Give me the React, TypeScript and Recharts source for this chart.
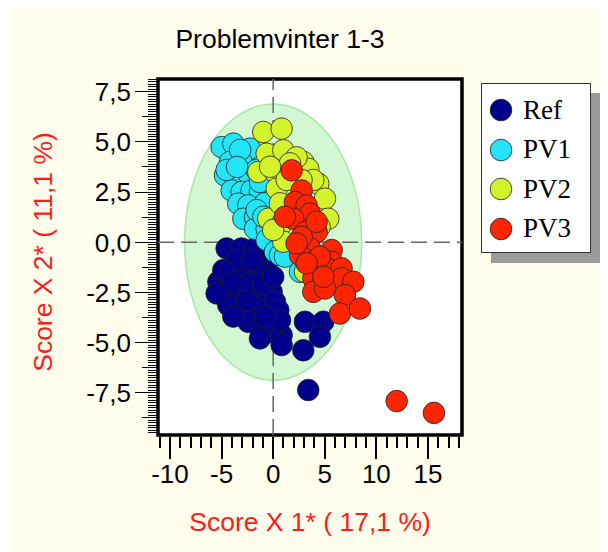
import React from 'react';
import { ScatterChart, Scatter, XAxis, YAxis, CartesianGrid, ReferenceLine, ReferenceArea } from 'recharts';

// score plot: Score X 1* vs Score X 2*
const refPoints: [number, number][] = [
  [-4.51, -0.31], [-3.06, -0.31], [-1.77, -0.31], [-0.63, -0.64], [-5.31, -1.97],
  [-4.02, -1.3], [-2.73, -1.47], [-1.44, -1.64], [-0.15, -2.47], [-4.35, -2.47],
  [-3.06, -2.47], [-1.77, -2.63], [-0.63, -2.96], [0.17, -2.96], [-4.35, -3.13],
  [-3.06, -3.46], [-1.77, -3.21], [0.5, -3.38], [-2.41, -3.96], [-1.28, -4.29],
  [-0.15, -4.46], [-1.28, -4.79], [0.82, -4.63], [0.82, -5.12], [-3.54, -1.88],
  [-5.48, -2.55], [3.08, -3.96], [4.86, -3.96], [4.53, -4.71], [2.92, -5.38],
  [3.4, -7.36], [-0.63, -1.39], [-1.6, -1.05], [-3.54, -0.89], [-4.83, -1.39],
  [-2.25, -2.05], [-0.96, -2.05], [-3.86, -3.7], [0.66, -3.88], [-0.8, -3.7],
  [0.0, -1.72], [-2.5, -2.9], [-3.9, -2.0], [-2.0, -0.9],
];

const pv1Points: [number, number][] = [
  [-4.99, 4.74], [-3.86, 4.91], [-2.25, 4.66], [-4.19, 4.0], [-3.06, 4.0],
  [-4.67, 3.33], [-3.54, 3.17], [-2.41, 3.42], [-4.02, 2.58], [-3.06, 2.5],
  [-2.09, 2.58], [-1.28, 2.5], [-3.38, 1.92], [-2.41, 1.84], [-2.89, 1.17],
  [-1.76, 1.26], [-1.76, 0.67], [-0.63, 0.67], [-0.63, 0.11], [0.17, -0.47],
  [0.66, -0.64], [1.14, -0.72], [2.6, -1.47], [-1.6, 3.6], [-0.79, 1.94],
  [-4.51, 3.6], [-3.2, 4.6], [-3.5, 3.75], [-1.6, 1.6], [-0.95, 1.27],
  [-1.28, 3.0],
];

const pv2Points: [number, number][] = [
  [-0.96, 5.49], [0.82, 5.66], [-0.63, 4.41], [0.98, 4.58], [-1.44, 3.5],
  [0.17, 3.5], [0.34, 2.67], [-0.47, 1.17], [0.82, 0.92], [2.92, 4.0],
  [3.4, 3.66], [4.37, 2.92], [5.02, 2.17], [5.34, 1.17], [0.98, 0.03],
  [3.08, -1.47], [2.27, 4.23], [1.63, 3.93], [3.89, 3.1], [2.75, 3.1],
  [1.31, 3.1], [0.66, 1.94], [0.0, 0.61], [4.5, 0.77], [-0.3, 3.76],
];

const pv3Points: [number, number][] = [
  [1.79, 3.58], [2.76, 2.58], [2.11, 2.0], [3.24, 1.83], [3.57, 1.42],
  [1.95, 1.17], [3.08, 0.51], [4.21, 0.51], [3.57, -0.3], [5.67, -0.39],
  [2.6, -0.64], [5.67, -0.97], [5.18, -1.3], [6.63, -1.3], [3.89, -1.8],
  [6.63, -1.8], [7.77, -1.97], [3.89, -2.47], [5.02, -2.3], [6.96, -2.63],
  [6.47, -3.55], [8.41, -3.3], [4.21, 1.02], [2.76, 0.27], [2.27, -0.06],
  [4.53, -0.72], [3.24, -1.05], [1.14, 1.27], [4.86, -1.72], [11.97, -7.91],
  [15.58, -8.5],
];

const seriesNames = ['Ref', 'PV1', 'PV2', 'PV3'];
const seriesColors = ['#00008c', '#22e5f8', '#d4f22b', '#ff2500'];
const seriesPoints = [refPoints, pv1Points, pv2Points, pv3Points];

const xMajorTicks = [-10, -5, 0, 5, 10, 15];
const xMajorLabels = ['-10', '-5', '0', '5', '10', '15'];
const yMajorTicks = [-7.5, -5, -2.5, 0, 2.5, 5, 7.5];
const yMajorLabels = ['-7,5', '-5,0', '-2,5', '0,0', '2,5', '5,0', '7,5'];

// confidence ellipse (semi axes in score units)
const ellipseRx = 8.58;
const ellipseRy = 6.88;

const X_MIN = -11.16;
const X_MAX = 18.3;
const Y_MIN = -9.6;
const Y_MAX = 8.13;

const xTicks: number[] = [];
for (let v = -11; v <= 18; v++) xTicks.push(v);
const yTicks: number[] = [];
for (let i = -76; i <= 65; i++) yTicks.push(i * 0.125);

const isMult = (v: number, s: number) => Math.abs(v / s - Math.round(v / s)) < 1e-6;

const XTick = (props: any) => {
  const { x, y, payload } = props;
  const i = xMajorTicks.indexOf(payload.value);
  const major = i >= 0;
  return (
    <g>
      <line x1={x} x2={x} y1={y + 2} y2={y + (major ? 24 : 13)} stroke="#000" strokeWidth={2} shapeRendering="crispEdges" />
      {major && (
        <text x={x} y={y + 48} textAnchor="middle" fontSize={26} fill="#000">
          {xMajorLabels[i]}
        </text>
      )}
    </g>
  );
};

const YTick = (props: any) => {
  const { x, y, payload } = props;
  const v = payload.value;
  const major = isMult(v, 2.5);
  const medium = !major && isMult(v, 1.25);
  const len = major ? 23 : medium ? 16 : 10;
  const i = yMajorTicks.findIndex((t) => Math.abs(t - v) < 1e-6);
  return (
    <g>
      <line x1={x - 1} x2={x - len} y1={y} y2={y} stroke="#000" strokeWidth={1} shapeRendering="crispEdges" />
      {i >= 0 && (
        <text x={x - 27} y={y} dy="0.36em" textAnchor="end" fontSize={26} fill="#000">
          {yMajorLabels[i]}
        </text>
      )}
    </g>
  );
};

const dot = (color: string) => (p: any) => (
  <circle cx={p.cx} cy={p.cy} r={10.8} fill={color} stroke="#1f1f1f" strokeWidth={0.8} />
);

const App = () => {
  return (
    <div
      style={{
        position: 'relative',
        marginLeft: 2,
        width: 598,
        height: 544,
        background: '#fffdeb',
        fontFamily: '"Liberation Sans", Arial, sans-serif',
      }}
    >
      <div style={{ position: 'absolute', left: 120, top: 16, width: 300, textAlign: 'center', fontSize: 26.5, color: '#000' }}>
        Problemvinter 1-3
      </div>
      <ScatterChart width={598} height={544} margin={{ top: 71, right: 146, bottom: 0, left: 0 }}>
        <CartesianGrid fill="#ffffff" horizontal={false} vertical={false} />
        <ReferenceArea
          x1={-ellipseRx}
          x2={ellipseRx}
          y1={-ellipseRy}
          y2={ellipseRy}
          shape={(p: any) => (
            <ellipse
              cx={p.x + p.width / 2}
              cy={p.y + p.height / 2}
              rx={Math.abs(p.width) / 2}
              ry={Math.abs(p.height) / 2}
              fill="#d3f6d3"
              stroke="#a6e8a6"
              strokeWidth={1.5}
            />
          )}
        />
        <ReferenceLine x={0} stroke="#666" strokeWidth={1.5} strokeDasharray="16 7" />
        <ReferenceLine y={0} stroke="#666" strokeWidth={1.5} strokeDasharray="16 7" />
        <XAxis
          type="number"
          dataKey="x"
          domain={[X_MIN, X_MAX]}
          allowDataOverflow
          ticks={xTicks}
          interval={0}
          tick={<XTick />}
          tickLine={false}
          axisLine={false}
          tickSize={0}
          tickMargin={0}
          height={117}
          label={{
            content: (p: any) => (
              <text x={p.viewBox.x + p.viewBox.width / 2} y={523} textAnchor="middle" fontSize={26.5} fill="#ff1a1a">
                Score X 1* ( 17,1 %)
              </text>
            ),
          }}
        />
        <YAxis
          type="number"
          dataKey="y"
          domain={[Y_MIN, Y_MAX]}
          allowDataOverflow
          ticks={yTicks}
          interval={0}
          tick={<YTick />}
          tickLine={false}
          axisLine={false}
          tickSize={0}
          tickMargin={0}
          width={148}
          label={{
            content: () => (
              <text x={0} y={0} transform="translate(42 244) rotate(-90)" textAnchor="middle" fontSize={26.5} fill="#ff1a1a">
                Score X 2* ( 11,1 %)
              </text>
            ),
          }}
        />
        {seriesPoints.map((pts, k) => (
          <Scatter
            key={seriesNames[k]}
            name={seriesNames[k]}
            data={pts.map(([x, y]) => ({ x, y }))}
            fill={seriesColors[k]}
            shape={dot(seriesColors[k])}
            isAnimationActive={false}
          />
        ))}
        <ReferenceArea
          x1={X_MIN}
          x2={X_MAX}
          y1={Y_MIN}
          y2={Y_MAX}
          fill="none"
          fillOpacity={0}
          stroke="#000"
          strokeWidth={3.5}
        />
      </ScatterChart>
      <div
        style={{
          position: 'absolute',
          left: 471,
          top: 75,
          width: 108,
          height: 168,
          background: '#fff',
          border: '1px solid #333',
          boxShadow: '10px 10px 0 #9a9a9a',
          fontFamily: '"Liberation Serif", "Times New Roman", serif',
        }}
      >
        {seriesNames.map((n, k) => (
          <div key={n} style={{ position: 'absolute', left: 0, top: 8 + k * 39.5, height: 36, display: 'flex', alignItems: 'center' }}>
            <svg width={40} height={36}>
              <circle cx={19} cy={18} r={10.8} fill={seriesColors[k]} stroke="#1f1f1f" strokeWidth={0.8} />
            </svg>
            <span style={{ fontSize: 27, marginLeft: 1, color: '#000' }}>{n}</span>
          </div>
        ))}
      </div>
    </div>
  );
};

export default App;
